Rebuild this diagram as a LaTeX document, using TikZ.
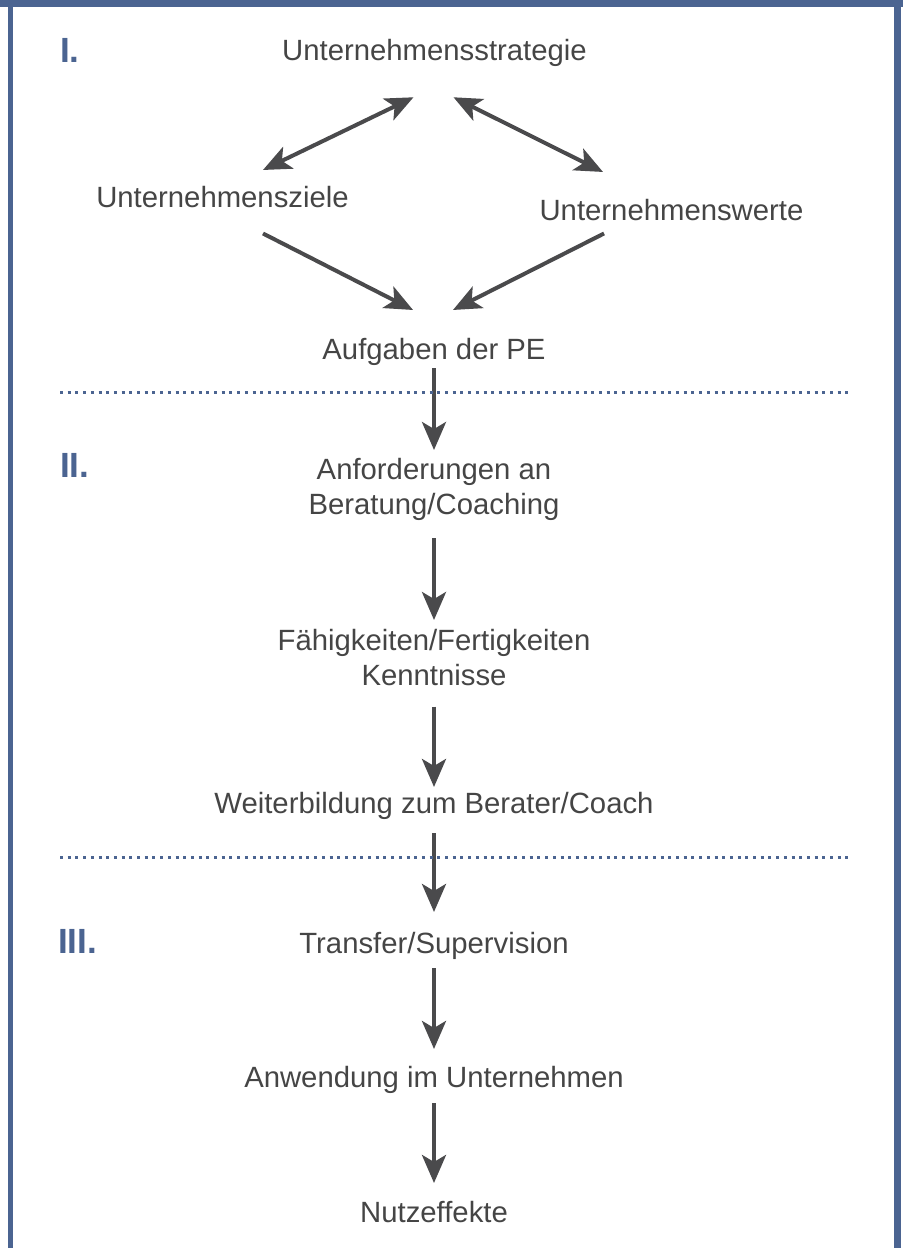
\documentclass[tikz,border=0pt]{standalone}
\usepackage{fontspec}
\setmainfont{Liberation Sans}
\usetikzlibrary{arrows.meta}
\definecolor{framecol}{HTML}{4B6491}
\definecolor{txtcol}{HTML}{454545}
\definecolor{arrcol}{HTML}{4A4A4C}

\begin{document}
\begin{tikzpicture}[line join=round,x=1pt,y=-1pt,
lbl/.style={text=txtcol,font=\fontsize{29.3}{35}\selectfont,inner sep=2pt,align=center},
roman/.style={text=framecol,font=\fontsize{35}{40}\selectfont\bfseries,inner sep=0pt,anchor=base west},
arr/.style={draw=arrcol,line width=4pt,-{Stealth[length=28pt,width=24pt,inset=7pt]}},
darr/.style={arr,{Stealth[length=28pt,width=24pt,inset=7pt]}-{Stealth[length=28pt,width=24pt,inset=7pt]}},
sep/.style={draw=framecol,line width=3pt,dash pattern=on 3pt off 4.7pt}]
\useasboundingbox (0,0) rectangle (903,1248);
\fill[framecol] (0,0) rectangle (903,7);
\fill[framecol] (8,0) rectangle (13,1248);
\fill[framecol] (894,0) rectangle (901,1248);
\node[roman] (r1) at (60,62) {I.};
\node[roman] (r2) at (60,477) {II.};
\node[roman] (r3) at (58,953) {III.};
\node[lbl,anchor=base] (strat) at (434.5,60) {Unternehmensstrategie};
\node[lbl,anchor=base] (ziele) at (222.5,207) {Unternehmensziele};
\node[lbl,anchor=base] (werte) at (671.5,220) {Unternehmenswerte};
\node[lbl,anchor=base] (pe) at (434,359) {Aufgaben der PE};
\node[lbl,anchor=north] (anf) at (434,455.6) {Anforderungen an\\Beratung/Coaching};
\node[lbl,anchor=north] (faeh) at (434,626.6) {Fähigkeiten/Fertigkeiten\\Kenntnisse};
\node[lbl,anchor=base] (weiter) at (434,813) {Weiterbildung zum Berater/Coach};
\node[lbl,anchor=base] (trans) at (434,953) {Transfer/Supervision};
\node[lbl,anchor=base] (anw) at (434,1087) {Anwendung im Unternehmen};
\node[lbl,anchor=base] (nutz) at (434,1222) {Nutzeffekte};
\draw[darr] ([xshift=40.5pt,yshift=13.6pt]ziele.north) -- ([xshift=-21pt,yshift=-29pt]strat.south);
\draw[darr] ([xshift=19pt,yshift=-29pt]strat.south) -- ([xshift=-68.5pt,yshift=24.6pt]werte.north);
\draw[arr] ([xshift=40.5pt,yshift=-24pt]ziele.south) -- ([xshift=-21pt,yshift=25.6pt]pe.north);
\draw[arr] ([xshift=-67.5pt,yshift=-11pt]werte.south) -- ([xshift=19pt,yshift=25.6pt]pe.north);
\draw[arr,shorten <=1pt,shorten >=5.6pt] (pe.south) -- (anf.north);
\draw[arr,shorten <=16pt,shorten >=6.6pt] (anf.south) -- (faeh.north);
\draw[arr,shorten <=19pt,shorten >=2.6pt] (faeh.south) -- (weiter.north);
\draw[arr,shorten <=12pt,shorten >=17.6pt] (weiter.south) -- (trans.north);
\draw[arr,shorten <=7pt,shorten >=14.6pt] (trans.south) -- (anw.north);
\draw[arr,shorten <=8pt,shorten >=15.6pt] (anw.south) -- (nutz.north);
\draw[sep] (60,392) -- (848,392);
\draw[sep] (60,857) -- (848,857);
\end{tikzpicture}
\end{document}
